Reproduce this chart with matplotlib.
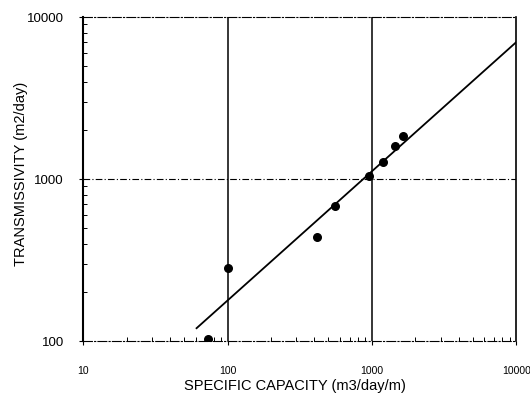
import numpy as np
import matplotlib
matplotlib.use("Agg")
import matplotlib.pyplot as plt
from matplotlib.ticker import FixedLocator, LogLocator, NullFormatter

# measured wells: specific capacity vs transmissivity
spec_cap = [73.5, 100, 418, 557, 956, 1200, 1450, 1630]
transmissivity = [103, 282, 437, 681, 1050, 1273, 1595, 1840]

# fitted line end points
fit_x = [61, 10000]
fit_y = [120, 7000]

x_ticks = [10, 100, 1000, 10000]
y_ticks = [100, 1000, 10000]

plt.rcParams['font.family'] = ['Liberation Sans', 'DejaVu Sans']

fig = plt.figure(figsize=(5.3, 3.97), dpi=100)
ax = fig.add_axes([0.157, 0.141, 0.817, 0.816])

ax.set_xscale('log')
ax.set_yscale('log')
ax.set_xlim(10, 10000)
ax.set_ylim(100, 10000)

# grid: solid verticals, dash-dot horizontals
for xv in x_ticks[1:-1]:
    ax.axvline(xv, color='black', lw=1.1, zorder=1)
for yv in y_ticks[1:-1]:
    ax.axhline(yv, color='black', lw=0.8, ls=(0, (6, 2, 1, 2)), zorder=1)

ax.plot(fit_x, fit_y, color='black', lw=1.3, zorder=2)
ax.scatter(spec_cap, transmissivity, s=30, color='black', zorder=3)

ax.xaxis.set_major_locator(FixedLocator(x_ticks))
ax.yaxis.set_major_locator(FixedLocator(y_ticks))
ax.set_xticklabels([str(v) for v in x_ticks], fontsize=7.5)
ax.set_yticklabels([str(v) for v in y_ticks], fontsize=9.5)
ax.xaxis.set_minor_locator(LogLocator(base=10, subs=np.arange(2, 10)))
ax.yaxis.set_minor_locator(LogLocator(base=10, subs=np.arange(2, 10)))
ax.xaxis.set_minor_formatter(NullFormatter())
ax.yaxis.set_minor_formatter(NullFormatter())
ax.tick_params(which='major', direction='out', length=3, width=0.8)
ax.tick_params(axis='x', which='major', pad=15)
ax.tick_params(axis='y', which='major', pad=11)
ax.tick_params(which='minor', direction='in', length=3, width=0.7)

ax.spines['left'].set_linewidth(1.5)
ax.spines['right'].set_linewidth(1.2)
ax.spines['top'].set_linewidth(0.8)
ax.spines['top'].set_linestyle((0, (8, 2, 1, 2)))
ax.spines['bottom'].set_linewidth(0.8)
ax.spines['bottom'].set_linestyle((0, (8, 2, 1, 2)))

ax.set_xlabel('SPECIFIC CAPACITY (m3/day/m)', fontsize=10.5)
ax.set_ylabel('TRANSMISSIVITY (m2/day)', fontsize=10.5)
ax.xaxis.set_label_coords(0.49, -0.117)
ax.yaxis.set_label_coords(-0.127, 0.515)

fig.savefig('out.png', dpi=100)
